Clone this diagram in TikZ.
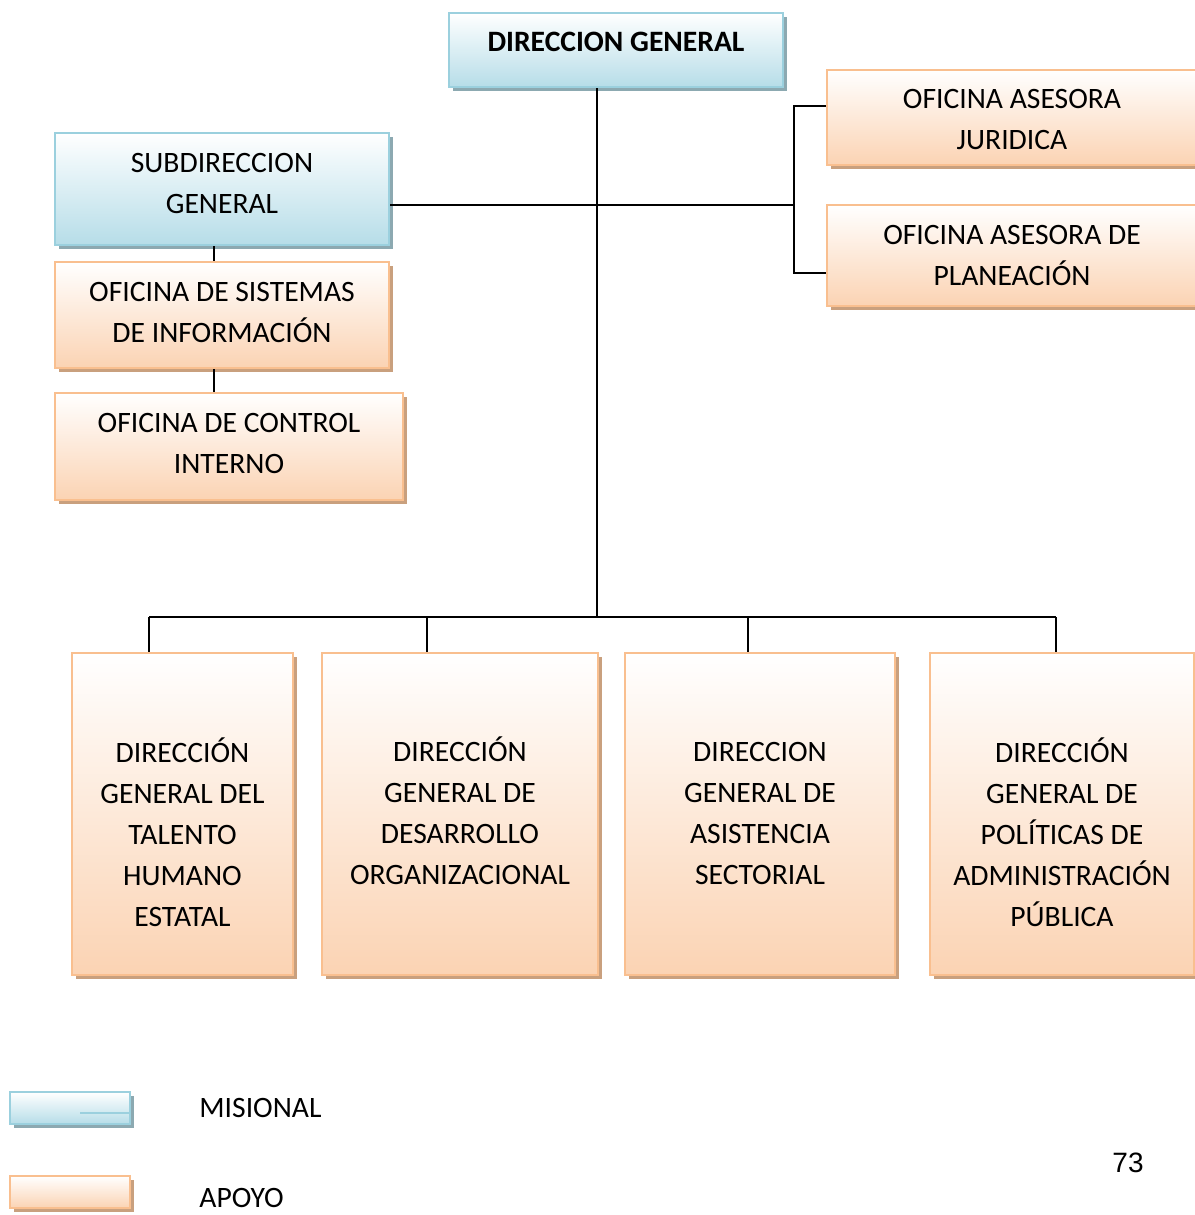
\documentclass[tikz,border=0pt]{standalone}
\usepackage{fontspec}
\setmainfont{Carlito}
\newfontfamily\numfont{Liberation Sans}
\usetikzlibrary{shadows}

\definecolor{misBorder}{HTML}{9BD0DE}
\definecolor{misFill}{HTML}{B6DDE8}
\definecolor{misShadow}{HTML}{8CA9B1}
\definecolor{apoBorder}{HTML}{F9BF8F}
\definecolor{apoFill}{HTML}{FBD3B3}
\definecolor{apoShadow}{HTML}{C9A07E}

\tikzset{
  unitbox/.style={rectangle, inner sep=0pt, line width=1.1pt},
  misbox/.style={unitbox, draw=misBorder, top color=white, bottom color=misFill,
    drop shadow={shadow xshift=2pt, shadow yshift=-2pt, fill=misShadow, opacity=1}},
  apobox/.style={unitbox, draw=apoBorder, top color=white, bottom color=apoFill,
    drop shadow={shadow xshift=2pt, shadow yshift=-2pt, fill=apoShadow, opacity=1}},
  lbl/.style={align=center, inner sep=0pt, font=\fontsize{14.8}{20.5}\selectfont},
  link/.style={line width=1pt, black},
}

\begin{document}
\begin{tikzpicture}[x=0.5pt, y=-0.5pt]
  \useasboundingbox (0,0) rectangle (1194,1215);

  % top management
  \node[misbox, minimum width=167pt, minimum height=37pt] (dg) at (616,50) {};
  \node[lbl, font=\fontsize{14.8}{20.5}\selectfont\bfseries] (dgt) at (616,42) {DIRECCION GENERAL};

  % left column
  \node[misbox, minimum width=167pt, minimum height=56pt] (sub) at (222,189) {};
  \node[lbl] (subt) at (222,183.5) {SUBDIRECCION\\GENERAL};
  \node[apobox, minimum width=167pt, minimum height=53pt] (sis) at (222,315) {};
  \node[lbl] (sist) at (222,312.5) {OFICINA DE SISTEMAS\\DE INFORMACIÓN};
  \node[apobox, minimum width=174pt, minimum height=53.5pt] (con) at (229,446.5) {};
  \node[lbl] (cont) at (229,443.5) {OFICINA DE CONTROL\\INTERNO};

  % advisory offices
  \node[apobox, minimum width=185pt, minimum height=47.5pt] (jur) at (1012,117.5) {};
  \node[lbl] (jurt) at (1012,119.5) {OFICINA ASESORA\\JURIDICA};
  \node[apobox, minimum width=185pt, minimum height=50.5pt] (pla) at (1012,255.5) {};
  \node[lbl] (plat) at (1012,255.5) {OFICINA ASESORA DE\\PLANEACIÓN};

  % directorates
  \node[apobox, minimum width=110.5pt, minimum height=161pt] (b1) at (182.5,814) {};
  \node[lbl] (b1t) at (182.5,832) {DIRECCIÓN\\GENERAL DEL\\TALENTO\\HUMANO\\ESTATAL};
  \node[apobox, minimum width=138pt, minimum height=161pt] (b2) at (460,814) {};
  \node[lbl] (b2t) at (460,811) {DIRECCIÓN\\GENERAL DE\\DESARROLLO\\ORGANIZACIONAL};
  \node[apobox, minimum width=135pt, minimum height=161pt] (b3) at (760,814) {};
  \node[lbl] (b3t) at (760,813) {DIRECCION\\GENERAL DE\\ASISTENCIA\\SECTORIAL};
  \node[apobox, minimum width=132pt, minimum height=161pt] (b4) at (1062,814) {};
  \node[lbl] (b4t) at (1062,832) {DIRECCIÓN\\GENERAL DE\\POLÍTICAS DE\\ADMINISTRACIÓN\\PÚBLICA};

  % connector junctions
  \coordinate (bus) at (597,617);
  \coordinate (hj) at (794,205);
  \coordinate (jy) at (794,106);
  \coordinate (py) at (794,273);
  \coordinate (busL) at (149,617);
  \coordinate (busR) at (1056,617);

  \draw[link] (dg.south -| bus) -- (bus);
  \draw[link] (sub.east |- hj) -- (hj);
  \draw[link] (jur.west |- jy) -- (jy) -- (py) -- (pla.west |- py);
  \draw[link] (sub.south -| 214,0) -- (sis.north -| 214,0);
  \draw[link] (sis.south -| 214,0) -- (con.north -| 214,0);
  \draw[link] (busL) -- (busR);
  \draw[link] (busL) -- (busL |- b1.north);
  \draw[link] (427,617) -- (b2.north -| 427,0);
  \draw[link] (748,617) -- (b3.north -| 748,0);
  \draw[link] (busR) -- (busR |- b4.north);

  % legend
  \node[misbox, minimum width=60pt, minimum height=16pt] (lgm) at (70,1108) {};
  \draw[misBorder, line width=0.6pt] (80,1113) -- (lgm.east |- 0,1113);
  \node[lbl, anchor=west] (lgmt) at (199,1108) {MISIONAL};
  \node[apobox, minimum width=60pt, minimum height=16pt] (lga) at (70,1192) {};
  \node[lbl, anchor=west] (lgat) at (199,1198) {APOYO};

  % page number
  \node[inner sep=0pt, font=\fontsize{14}{16}\numfont] (pg) at (1128,1163) {73};
\end{tikzpicture}
\end{document}
